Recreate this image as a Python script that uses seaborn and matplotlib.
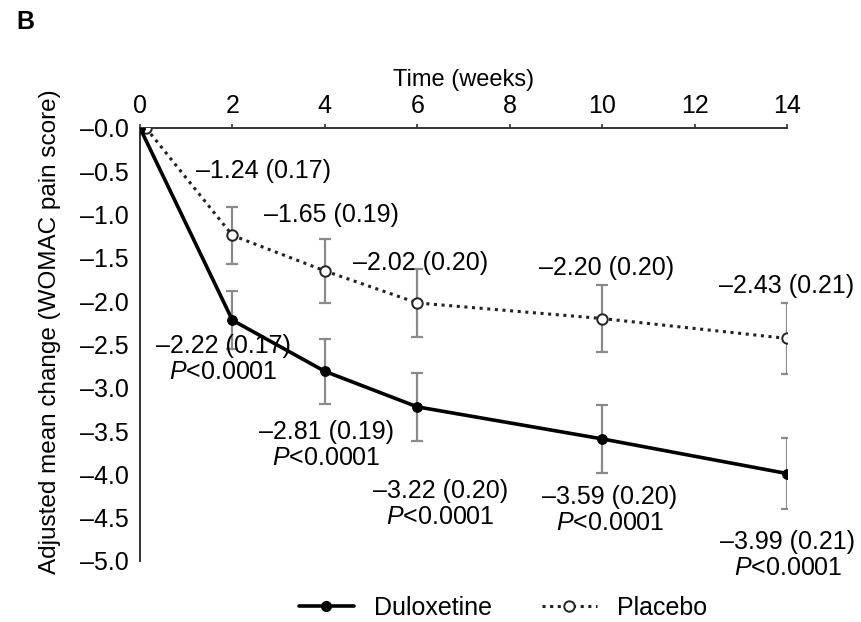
import matplotlib
matplotlib.use("Agg")
import matplotlib.pyplot as plt
from matplotlib.font_manager import fontManager
from matplotlib.lines import Line2D
import pandas as pd
import seaborn as sns

# ---- data ----
weeks = [0, 2, 4, 6, 10, 14]
placebo_weeks = [0.13, 2, 4, 6, 10, 14]
duloxetine_mean = [0.0, -2.22, -2.81, -3.22, -3.59, -3.99]
duloxetine_se = [0.0, 0.17, 0.19, 0.20, 0.20, 0.21]
placebo_mean = [0.0, -1.24, -1.65, -2.02, -2.20, -2.43]
placebo_se = [0.0, 0.17, 0.19, 0.20, 0.20, 0.21]
x_ticks = [0, 2, 4, 6, 8, 10, 12, 14]
y_ticks = [0.0, -0.5, -1.0, -1.5, -2.0, -2.5, -3.0, -3.5, -4.0, -4.5, -5.0]
y_tick_labels = ["\u20130.0", "\u20130.5", "\u20131.0", "\u20131.5", "\u20132.0",
                 "\u20132.5", "\u20133.0", "\u20133.5", "\u20134.0", "\u20134.5",
                 "\u20135.0"]

# label anchor points (data coordinates) for the value annotations
placebo_label_pos = [(2.68, -0.50), (4.15, -1.01), (6.08, -1.56),
                     (10.1, -1.62), (14.0, -1.82)]
duloxetine_label_pos = [(1.80, -2.67), (4.03, -3.66), (6.50, -4.34),
                        (10.17, -4.41), (14.02, -4.93)]

sns.set_theme(style="white")
installed = {f.name for f in fontManager.ttflist}
base_font = "Liberation Sans"
narrow_font = "Liberation Sans Narrow" if "Liberation Sans Narrow" in installed else base_font
plt.rcParams["font.family"] = [base_font, "DejaVu Sans"]
plt.rcParams["mathtext.fontset"] = "custom"
plt.rcParams["mathtext.rm"] = base_font
plt.rcParams["mathtext.it"] = base_font + ":italic"
for key in ["text.color", "axes.labelcolor", "xtick.labelcolor", "ytick.labelcolor"]:
    plt.rcParams[key] = "black"

fig = plt.figure(figsize=(8.61, 6.22), dpi=100)
ax = fig.add_axes([140 / 861, 1 - 561 / 622, (787 - 140) / 861, (561 - 128) / 622])

df = pd.concat([
    pd.DataFrame({"week": weeks, "change": duloxetine_mean, "se": duloxetine_se,
                  "group": "Duloxetine"}),
    pd.DataFrame({"week": placebo_weeks, "change": placebo_mean, "se": placebo_se,
                  "group": "Placebo"}),
])

# 95% confidence intervals
for grp in ["Duloxetine", "Placebo"]:
    d = df[df.group == grp].iloc[1:]
    ax.errorbar(d.week, d.change, yerr=1.96 * d.se, fmt="none",
                ecolor="#8a8a8a", elinewidth=1.6, capsize=4, capthick=1.6, zorder=1)

sns.lineplot(data=df[df.group == "Placebo"], x="week", y="change", ax=ax,
             color="#222222", linestyle=(0, (1, 1.5)), linewidth=2.2,
             marker="o", markersize=7.5, markerfacecolor="white",
             markeredgecolor="#222222", markeredgewidth=1.4, zorder=3,
             legend=False)
sns.lineplot(data=df[df.group == "Duloxetine"], x="week", y="change", ax=ax,
             color="black", linewidth=2.6, marker="o", markersize=7,
             markerfacecolor="black", markeredgecolor="black", zorder=4,
             legend=False)

# value annotations
for (tx, ty), m, s in zip(placebo_label_pos, placebo_mean[1:], placebo_se[1:]):
    ax.text(tx, ty, f"\u2013{abs(m):.2f} ({s:.2f})", ha="center", va="center",
            fontsize=18, color="black", clip_on=False)
for (tx, ty), m, s in zip(duloxetine_label_pos, duloxetine_mean[1:], duloxetine_se[1:]):
    ax.text(tx, ty, f"\u2013{abs(m):.2f} ({s:.2f})\n$\\mathit{{P}}$<0.0001",
            ha="center", va="center", fontsize=18, color="black",
            linespacing=1.1, clip_on=False)

# axes styling
ax.set_xlim(0, 14)
ax.set_ylim(-5.0, 0.0)
ax.xaxis.tick_top()
ax.xaxis.set_label_position("top")
ax.set_xticks(x_ticks)
ax.set_xticklabels([str(t) for t in x_ticks], fontsize=18, family=narrow_font)
ax.set_yticks(y_ticks)
ax.set_yticklabels(y_tick_labels, fontsize=18)
ax.set_xlabel("Time (weeks)", fontsize=17, family=narrow_font, labelpad=6)
ax.set_ylabel("Adjusted mean change (WOMAC pain score)", fontsize=17.5, labelpad=9)
ax.yaxis.set_label_coords(-0.122, 0.53)
ax.tick_params(axis="x", direction="out", length=3, width=1.2, pad=4, color="#333333")
ax.tick_params(axis="y", direction="out", length=5, width=1.2, pad=3, color="#333333")
for side in ["bottom", "right"]:
    ax.spines[side].set_visible(False)
for side in ["top", "left"]:
    ax.spines[side].set_color("#333333")
    ax.spines[side].set_linewidth(1.4)
ax.grid(False)

# legend
handles = [
    Line2D([], [], color="black", linewidth=2.6, marker="o", markersize=7,
           markerfacecolor="black"),
    Line2D([], [], color="#222222", linestyle=(0, (1, 1.5)), linewidth=2.2,
           marker="o", markersize=7.5, markerfacecolor="white",
           markeredgecolor="#222222", markeredgewidth=1.4),
]
fig.legend(handles, ["Duloxetine", "Placebo"], loc="center",
           bbox_to_anchor=(503 / 861, 1 - 608 / 622), ncol=2, frameon=False,
           fontsize=18, handlelength=2.2, columnspacing=2.0, handletextpad=0.8)

fig.text(16 / 861, 1 - 22 / 622, "B", fontsize=18, fontweight="bold",
         ha="left", va="center")

fig.savefig("out.png", dpi=100)
